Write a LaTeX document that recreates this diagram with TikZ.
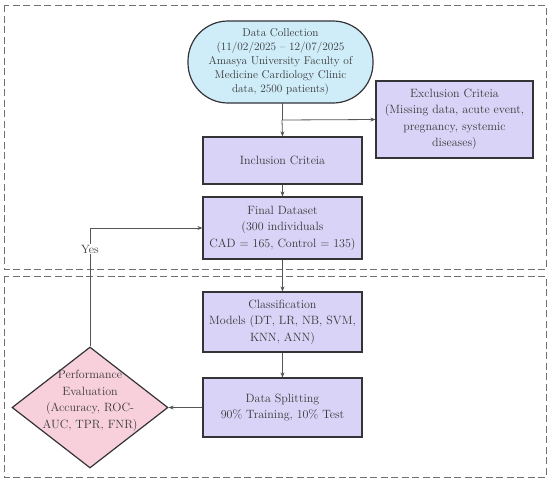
\documentclass[tikz,border=0pt]{standalone}
\usetikzlibrary{shapes.geometric,arrows.meta}
\definecolor{boxfill}{HTML}{D9D3F7}
\definecolor{bluefill}{HTML}{CFEDF9}
\definecolor{pinkfill}{HTML}{F8D0DC}
\definecolor{edge}{HTML}{333338}
\definecolor{txt}{HTML}{383838}
\definecolor{conn}{HTML}{555555}
\definecolor{dashc}{HTML}{707070}
\tikzset{
  procbox/.style={draw=edge, line width=1.2pt, fill=boxfill, align=center, text=txt,
    font=\fontsize{12}{16.5}\selectfont, inner sep=0pt},
  startbox/.style={draw=edge, line width=1.2pt, fill=bluefill, align=center, text=txt,
    font=\fontsize{11.3}{14.2}\selectfont, rounded corners=40pt, inner sep=0pt},
  decbox/.style={draw=edge, line width=1.2pt, fill=pinkfill, diamond, align=center, text=txt,
    font=\fontsize{12}{16.5}\selectfont, inner sep=0pt},
  conline/.style={draw=conn, line width=0.8pt},
  arr/.style={conline, -{Stealth[length=5pt,width=4pt]}},
  group/.style={draw=dashc, line width=1pt, dash pattern=on 7pt off 3.5pt}
}
\begin{document}
\begin{tikzpicture}[x=1pt,y=-1pt]
\useasboundingbox (0,0) rectangle (550,480);
\draw[group] (4,5) rectangle (546,269);
\draw[group] (4,276) rectangle (546,477);

\node[startbox, minimum width=185pt, minimum height=82pt] (dc) at (280.5,62)
  {Data Collection\\(11/02/2025 -- 12/07/2025\\Amasya University Faculty of\\Medicine Cardiology Clinic\\data, 2500 patients)};
\node[procbox, minimum width=157pt, minimum height=77pt] (excl) at (454.5,119.5)
  {Exclusion Criteia\\(Missing data, acute event,\\pregnancy, systemic\\diseases)};
\node[procbox, minimum width=159pt, minimum height=47pt] (incl) at (282.5,160.5)
  {Inclusion Criteia};
\node[procbox, minimum width=159pt, minimum height=62pt] (final) at (282.5,228)
  {Final Dataset\\(300 individuals\\CAD = 165, Control = 135)};
\node[procbox, minimum width=159pt, minimum height=60pt] (cls) at (282.5,322)
  {Classification\\Models (DT, LR, NB, SVM,\\KNN, ANN)};
\node[procbox, minimum width=159pt, minimum height=59pt] (split) at (282.5,407.5)
  {Data Splitting\\90\% Training, 10\% Test};
\node[decbox, minimum width=156pt, minimum height=121pt] (perf) at (90,407.5) {};
\node[align=center, text=txt, font=\fontsize{12}{16.5}\selectfont] (perftext) at (90,401)
  {Performance\\Evaluation\\(Accuracy, ROC-\\AUC, TPR, FNR)};

\coordinate (dcb) at (282,103);
\coordinate (br) at (282,120);
\coordinate (loopc) at (90,228);
\draw[conline] (dcb) -- (br);
\draw[arr] (br) -- (incl.north);
\draw[arr] (br) -- (excl.west);
\draw[arr] (incl) -- (final);
\draw[arr] (final) -- (cls);
\draw[arr] (cls) -- (split);
\draw[arr] (split.west) -- (perf.east);
\draw[arr] (perf.north) -- (loopc) -- (final.west);
\node[fill=white, inner sep=1pt, text=txt, font=\fontsize{12}{14}\selectfont] (yes) at (90,249) {Yes};
\end{tikzpicture}
\end{document}
